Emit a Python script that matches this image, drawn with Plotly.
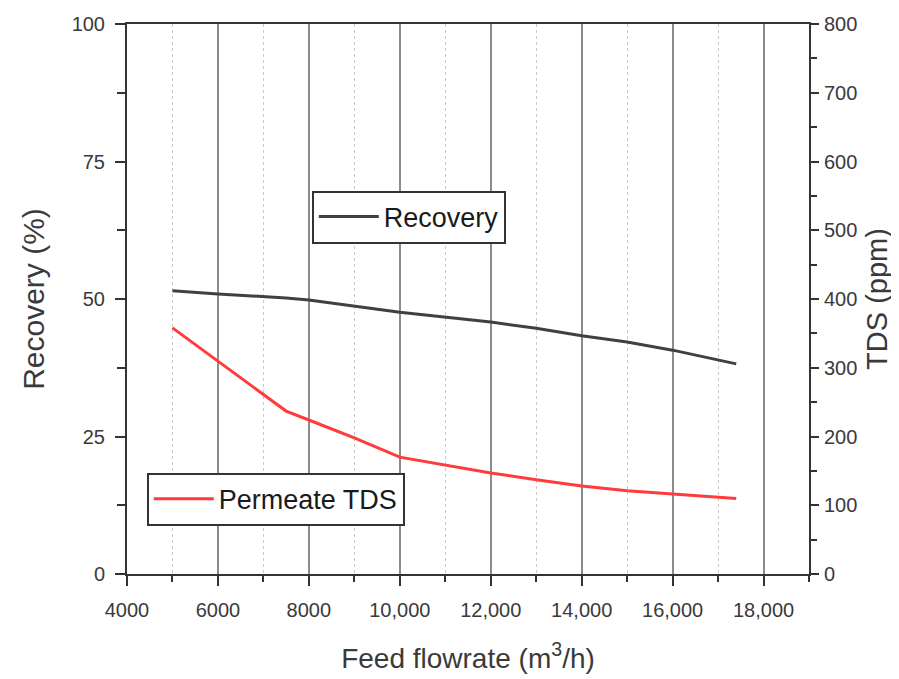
import plotly.graph_objects as go

flow = [5000, 6000, 7500, 8000, 10000, 12000, 13000, 14000, 15000, 16000, 17400]
recovery = [51.5, 50.9, 50.2, 49.8, 47.6, 45.8, 44.7, 43.3, 42.2, 40.7, 38.2]

flow_tds = [5000, 7500, 8000, 9000, 10000, 11000, 12000, 13000, 14000, 15000, 16000, 17400]
tds = [358, 237, 224, 198, 170, 158, 147, 137, 128, 121, 116, 110]

x_tickvals = [4000, 6000, 8000, 10000, 12000, 14000, 16000, 18000]
x_ticktext = ["4000", "6000", "8000", "10,000", "12,000", "14,000", "16,000", "18,000"]
y_tickvals = [0, 25, 50, 75, 100]
y2_tickvals = [0, 100, 200, 300, 400, 500, 600, 700, 800]

font_fam = "Liberation Sans, Arial, sans-serif"
axc = "#333333"
txc = "#3a3a3a"

fig = go.Figure()
fig.add_trace(go.Scatter(x=flow, y=recovery, mode="lines", name="Recovery",
                         line=dict(color="#404040", width=3), legend="legend"))
fig.add_trace(go.Scatter(x=flow_tds, y=tds, mode="lines", name="Permeate TDS",
                         line=dict(color="#ff3b3b", width=3), yaxis="y2", legend="legend2"))

fig.update_layout(
    width=899, height=679,
    margin=dict(l=119, r=98, t=16, b=113),
    showlegend=True,
    plot_bgcolor="white", paper_bgcolor="white",
    font=dict(family=font_fam, color=txc, size=20),
    xaxis=dict(range=[4000, 19000], tickvals=x_tickvals, ticktext=x_ticktext,
               automargin=False,
               showline=True, linecolor=axc, linewidth=2, mirror=True,
               ticks="outside", ticklen=10, tickwidth=2, tickcolor=axc,
               ticklabelstandoff=7,
               showgrid=True, gridcolor="#8c8c8c", gridwidth=1.5,
               minor=dict(dtick=1000, tick0=4000, ticks="outside", ticklen=6, tickwidth=2,
                          tickcolor=axc, showgrid=True, gridcolor="#c8c8c8",
                          griddash="dot", gridwidth=1),
               zeroline=False,
               title=dict(text="Feed flowrate (m<sup>3</sup>/h)", font=dict(size=28, color=txc), standoff=28),
               tickfont=dict(size=20, color=txc)),
    yaxis=dict(range=[0, 100], tickvals=y_tickvals, showline=True, linecolor=axc, linewidth=2,
               automargin=False,
               ticks="outside", ticklen=10, tickwidth=2, tickcolor=axc,
               ticklabelstandoff=6,
               minor=dict(dtick=12.5, ticks="outside", ticklen=8, tickwidth=2, tickcolor=axc),
               showgrid=False, zeroline=False,
               title=dict(text="Recovery (%)", font=dict(size=30, color=txc), standoff=18),
               tickfont=dict(size=20, color=txc)),
    yaxis2=dict(range=[0, 800], tickvals=y2_tickvals, overlaying="y", side="right",
                automargin=False,
                showline=True, linecolor=axc, linewidth=2,
                ticks="outside", ticklen=8, tickwidth=2, tickcolor=axc,
                ticklabelstandoff=1,
                minor=dict(dtick=50, ticks="outside", ticklen=6, tickwidth=2, tickcolor=axc),
                showgrid=False, zeroline=False,
                title=dict(text="TDS (ppm)", font=dict(size=29, color=txc), standoff=10),
                tickfont=dict(size=20, color=txc)),
    legend=dict(x=0.271, y=0.649, xanchor="left", yanchor="middle", bordercolor=axc, borderwidth=2,
                bgcolor="white", font=dict(size=27, color="#1a1a1a"), itemwidth=60),
    legend2=dict(x=0.029, y=0.136, xanchor="left", yanchor="middle", bordercolor=axc, borderwidth=2,
                 bgcolor="white", font=dict(size=27, color="#1a1a1a"), itemwidth=60),
)

fig.write_html("out.html")
